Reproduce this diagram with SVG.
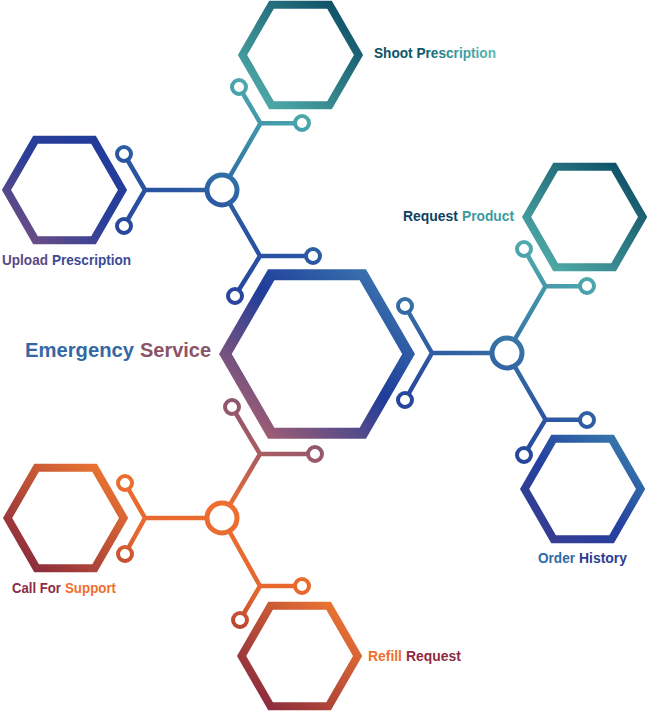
<svg xmlns="http://www.w3.org/2000/svg" width="650" height="712" viewBox="0 0 650 712">
  <defs>
    <linearGradient id="gTeal" x1="1" y1="0" x2="0" y2="1">
      <stop offset="0" stop-color="#084760"/>
      <stop offset="1" stop-color="#56b4ae"/>
    </linearGradient>
    <linearGradient id="gUpload" x1="1" y1="0" x2="0" y2="1">
      <stop offset="0" stop-color="#1f3b9b"/>
      <stop offset="0.5" stop-color="#2b3f99"/>
      <stop offset="1" stop-color="#7a5080"/>
    </linearGradient>
    <linearGradient id="gOrder" x1="1" y1="0" x2="0" y2="1">
      <stop offset="0" stop-color="#3a82ac"/>
      <stop offset="0.55" stop-color="#2440a0"/>
      <stop offset="1" stop-color="#3c3c8e"/>
    </linearGradient>
    <linearGradient id="gCenter" x1="1" y1="0" x2="0" y2="1">
      <stop offset="0" stop-color="#4080b2"/>
      <stop offset="0.45" stop-color="#1f3d9a"/>
      <stop offset="1" stop-color="#bc646a"/>
    </linearGradient>
    <linearGradient id="gOrange" x1="1" y1="0" x2="0" y2="1">
      <stop offset="0" stop-color="#f67c30"/>
      <stop offset="1" stop-color="#80233f"/>
    </linearGradient>
    <linearGradient id="gM1" gradientUnits="userSpaceOnUse" x1="290" y1="82" x2="170" y2="300">
      <stop offset="0" stop-color="#55b6ae"/>
      <stop offset="0.35" stop-color="#3582a8"/>
      <stop offset="0.6" stop-color="#2a55a2"/>
      <stop offset="1" stop-color="#283e9c"/>
    </linearGradient>
    <linearGradient id="gM2" gradientUnits="userSpaceOnUse" x1="575" y1="245" x2="470" y2="465">
      <stop offset="0" stop-color="#55b6ae"/>
      <stop offset="0.4" stop-color="#3a7ea8"/>
      <stop offset="0.7" stop-color="#2c55a2"/>
      <stop offset="1" stop-color="#233d98"/>
    </linearGradient>
    <linearGradient id="gM3" gradientUnits="userSpaceOnUse" x1="290" y1="400" x2="180" y2="630">
      <stop offset="0" stop-color="#7a527a"/>
      <stop offset="0.28" stop-color="#b05e5c"/>
      <stop offset="0.48" stop-color="#ef6f30"/>
      <stop offset="0.75" stop-color="#e4662f"/>
      <stop offset="1" stop-color="#9a2e34"/>
    </linearGradient>
    <linearGradient id="gShootText" gradientUnits="userSpaceOnUse" x1="374" y1="0" x2="496" y2="0">
      <stop offset="0" stop-color="#0c4f63"/>
      <stop offset="0.42" stop-color="#0f5a6c"/>
      <stop offset="0.6" stop-color="#2f8f95"/>
      <stop offset="1" stop-color="#5ab8b4"/>
    </linearGradient>
  </defs>
  <style>
    .hex { fill: none; stroke-width: 8; stroke-linejoin: miter; }
    .hexc { fill: none; stroke-width: 11; stroke-linejoin: miter; }
    .ln { fill: none; stroke-width: 4.5; stroke-linecap: butt; }
    .dot { fill: #ffffff; stroke-width: 4; }
    .hub { fill: #ffffff; stroke-width: 5; }
    .lbl { font-family: "Liberation Sans", Arial, sans-serif; font-weight: bold; font-size: 15px; }
    .big { font-size: 21px; }
  </style>

  <g id="connectors">
    <g id="molecule-top" stroke="url(#gM1)">
      <path class="ln" d="M222,190 H145 M145,190 L124,154 M145,190 L124,226 M222,190 L260.5,123.3 M260.5,123.3 H302 M260.5,123.3 L239,87 M222,190 L260,256 M260,256 H313 M260,256 L235,296"/>
      <circle class="dot" cx="124" cy="154" r="7"/>
      <circle class="dot" cx="124" cy="226" r="7"/>
      <circle class="dot" cx="302" cy="123" r="7"/>
      <circle class="dot" cx="239" cy="87" r="7"/>
      <circle class="dot" cx="313" cy="256" r="7"/>
      <circle class="dot" cx="235" cy="296" r="7"/>
      <circle class="hub" cx="222" cy="190" r="15"/>
    </g>
    <g id="molecule-right" stroke="url(#gM2)">
      <path class="ln" d="M507,353 H432 M432,353 L405,306 M432,353 L405,400 M507,353 L545.5,286.3 M545.5,286.3 H587 M545.5,286.3 L524,249 M507,353 L545.5,419.7 M545.5,419.7 H587 M545.5,419.7 L524,455"/>
      <circle class="dot" cx="405" cy="306" r="7"/>
      <circle class="dot" cx="405" cy="400" r="7"/>
      <circle class="dot" cx="587" cy="286" r="7"/>
      <circle class="dot" cx="524" cy="249" r="7"/>
      <circle class="dot" cx="587" cy="420" r="7"/>
      <circle class="dot" cx="524" cy="455" r="7"/>
      <circle class="hub" cx="507" cy="353" r="15"/>
    </g>
    <g id="molecule-bottom" stroke="url(#gM3)">
      <path class="ln" d="M222,518 H145 M145,518 L125,483 M145,518 L125,554 M222,518 L260,454 M260,454 H315 M260,454 L232,407 M222,518 L260,586 M260,586 H302 M260,586 L240,620"/>
      <circle class="dot" cx="125" cy="483" r="7"/>
      <circle class="dot" cx="125" cy="554" r="7"/>
      <circle class="dot" cx="315" cy="454" r="7"/>
      <circle class="dot" cx="232" cy="407" r="7"/>
      <circle class="dot" cx="302" cy="586" r="7"/>
      <circle class="dot" cx="240" cy="620" r="7"/>
      <circle class="hub" cx="222" cy="518" r="15"/>
    </g>
  </g>

  <g id="node-emergency">
    <polygon class="hexc" stroke="url(#gCenter)" points="408.6,354 362.8,433.3 271.2,433.3 225.4,354 271.2,274.7 362.8,274.7"/>
    <text class="lbl big" x="25" y="357" textLength="109" lengthAdjust="spacingAndGlyphs" fill="#3568a3">Emergency</text>
    <text class="lbl big" x="140" y="357" textLength="71" lengthAdjust="spacingAndGlyphs" fill="#8a5468">Service</text>
  </g>

  <g id="node-shoot">
    <polygon class="hex" stroke="url(#gTeal)" points="358.5,55 329.5,105.2 271.5,105.2 242.5,55 271.5,4.8 329.5,4.8"/>
    <text class="lbl" x="374" y="58" textLength="122" lengthAdjust="spacingAndGlyphs" fill="url(#gShootText)">Shoot Prescription</text>
  </g>

  <g id="node-upload">
    <polygon class="hex" stroke="url(#gUpload)" points="122.5,190 93.5,240.2 35.5,240.2 6.5,190 35.5,139.8 93.5,139.8"/>
    <text class="lbl" x="2" y="265" textLength="46" lengthAdjust="spacingAndGlyphs" fill="#5a4a86">Upload</text>
    <text class="lbl" x="52" y="265" textLength="79" lengthAdjust="spacingAndGlyphs" fill="#3c4a96">Prescription</text>
  </g>

  <g id="node-request">
    <polygon class="hex" stroke="url(#gTeal)" points="642.6,217 613.6,267.2 555.6,267.2 526.6,217 555.6,166.8 613.6,166.8"/>
    <text class="lbl" x="403" y="221" textLength="55" lengthAdjust="spacingAndGlyphs" fill="#0d4262">Request</text>
    <text class="lbl" x="462" y="221" textLength="52" lengthAdjust="spacingAndGlyphs" fill="#3d9aa0">Product</text>
  </g>

  <g id="node-order">
    <polygon class="hex" stroke="url(#gOrder)" points="640.6,489 611.6,539.2 553.6,539.2 524.6,489 553.6,438.8 611.6,438.8"/>
    <text class="lbl" x="538" y="563" textLength="37" lengthAdjust="spacingAndGlyphs" fill="#2f6aa8">Order</text>
    <text class="lbl" x="579" y="563" textLength="48" lengthAdjust="spacingAndGlyphs" fill="#2b3e93">History</text>
  </g>

  <g id="node-call">
    <polygon class="hex" stroke="url(#gOrange)" points="123.6,518 94.6,568.2 36.6,568.2 7.6,518 36.6,467.8 94.6,467.8"/>
    <text class="lbl" x="12" y="593" textLength="49" lengthAdjust="spacingAndGlyphs" fill="#8e2c42">Call For</text>
    <text class="lbl" x="65" y="593" textLength="51" lengthAdjust="spacingAndGlyphs" fill="#f06f2e">Support</text>
  </g>

  <g id="node-refill">
    <polygon class="hex" stroke="url(#gOrange)" points="357.6,656 328.6,706.2 270.6,706.2 241.6,656 270.6,605.8 328.6,605.8"/>
    <text class="lbl" x="368" y="661" textLength="34" lengthAdjust="spacingAndGlyphs" fill="#f06f2e">Refill</text>
    <text class="lbl" x="406" y="661" textLength="55" lengthAdjust="spacingAndGlyphs" fill="#8e2c42">Request</text>
  </g>
</svg>
